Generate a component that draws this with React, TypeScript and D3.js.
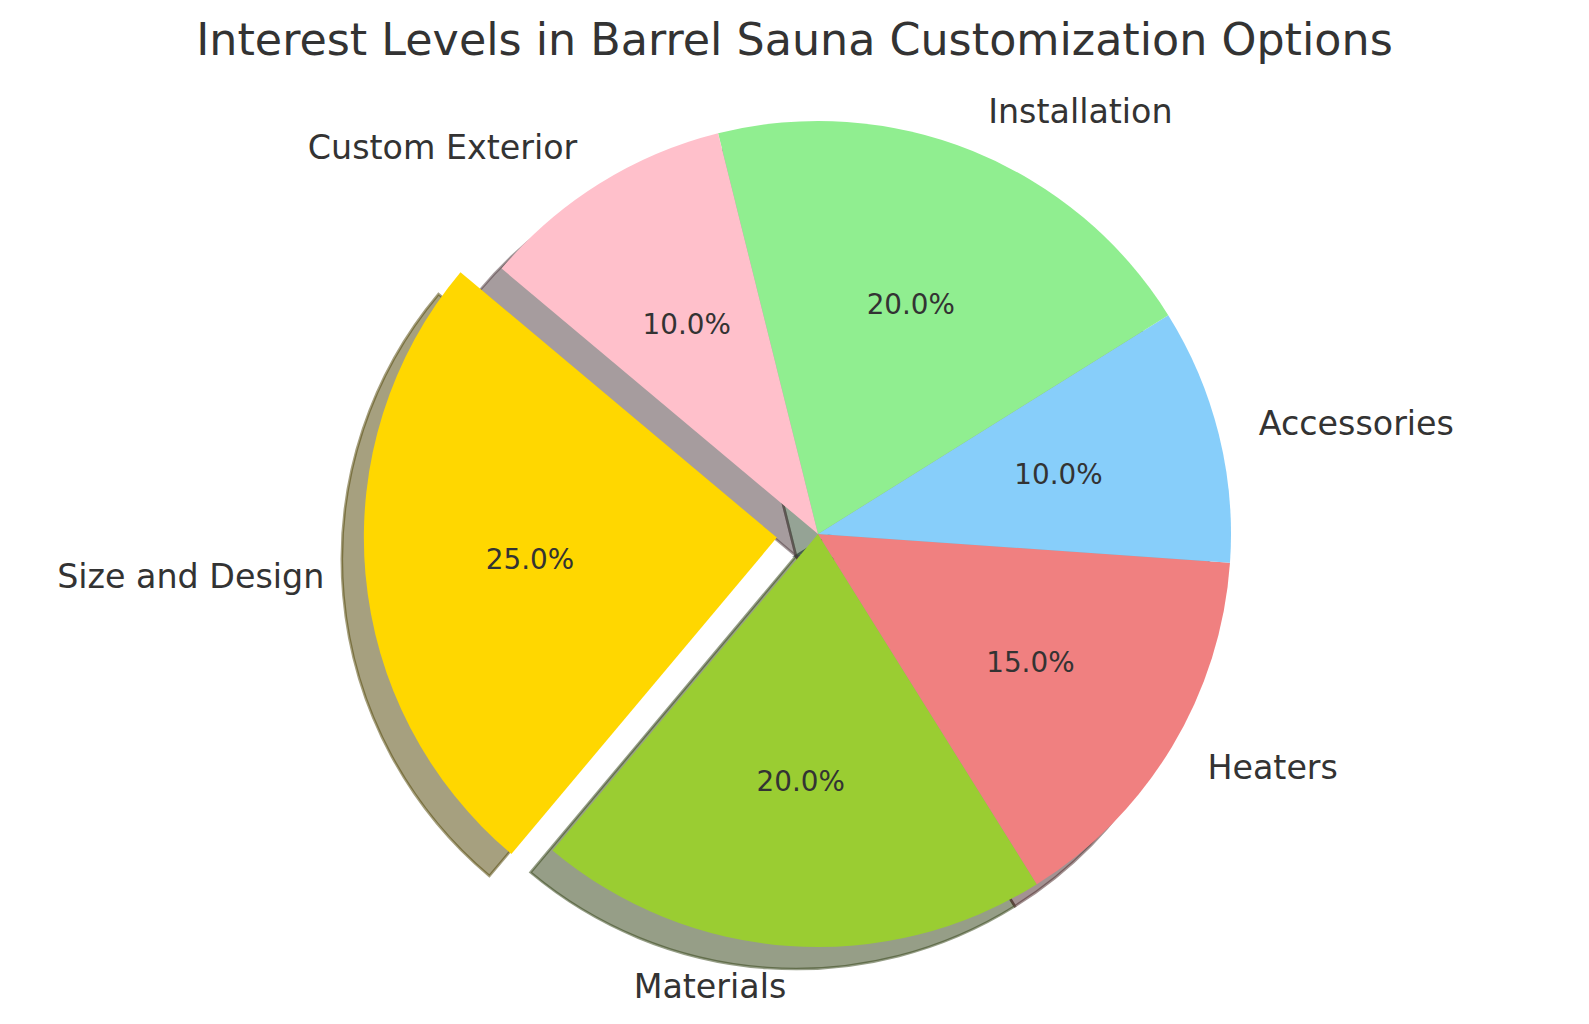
import * as d3 from 'd3'

// chart data
const categories = ['Size and Design', 'Materials', 'Heaters', 'Accessories', 'Installation', 'Custom Exterior']
const values = [25, 20, 15, 10, 20, 10]
const colors = ['#FFD700', '#9ACD32', '#F08080', '#87CEFA', '#90EE90', '#FFC0CB']
const explode = [0.1, 0, 0, 0, 0, 0]
const title = 'Interest Levels in Barrel Sauna Customization Options'

const W = 1589
const H = 1024
const CX = 818
const CY = 534
const R = 413
const START_DEG = 140 // matplotlib startangle, counter-clockwise
const SHADOW = 22
const FONT = 'DejaVu Sans, sans-serif'
const INK = '#333333'
const TITLE_SIZE = 44.4
const LABEL_SIZE = 33.3
const PCT_SIZE = 27.8

const toRad = (deg: number) => (deg * Math.PI) / 180

export default function App() {
  // matplotlib goes counter-clockwise from 140deg, d3 runs clockwise from 12 o'clock
  const pie = d3.pie<number>()
    .sort(null)
    .value(d => d)
    .startAngle(toRad(90 - START_DEG))
    .endAngle(toRad(90 - START_DEG - 360))
  const arcs = pie(values)
  const arc = d3.arc<d3.PieArcDatum<number>>().innerRadius(0).outerRadius(R)
  const total = d3.sum(values)

  const shade = (c: string) => {
    const rgb = d3.rgb(c)
    return d3.rgb(rgb.r * 0.3, rgb.g * 0.3, rgb.b * 0.3).formatHex()
  }

  const items = arcs.map((a, i) => {
    const mid = (a.startAngle + a.endAngle) / 2
    const ux = Math.sin(mid)
    const uy = -Math.cos(mid)
    const ox = ux * explode[i] * R
    const oy = uy * explode[i] * R
    return { a, i, ux, uy, ox, oy }
  })

  return (
    <div style={{ position: 'absolute', left: 0, top: 0 }}>
      <svg width={W} height={H} style={{ display: 'block', background: '#ffffff' }}>
        <text x={W / 2} y={55} textAnchor="middle" fontFamily={FONT} fontSize={TITLE_SIZE} fill={INK}>
          {title}
        </text>

        {/* shadows first, under every wedge */}
        {items.map(({ a, i, ox, oy }) => (
          <path
            key={'s' + i}
            d={arc(a) ?? ''}
            transform={`translate(${CX + ox - SHADOW},${CY + oy + SHADOW})`}
            fill={shade(colors[i])}
            fillOpacity={0.5}
            stroke={shade(colors[i])}
            strokeOpacity={0.5}
            strokeWidth={2.6}
          />
        ))}

        {items.map(({ a, i, ox, oy }) => (
          <path
            key={'w' + i}
            d={arc(a) ?? ''}
            transform={`translate(${CX + ox},${CY + oy})`}
            fill={colors[i]}
          />
        ))}

        {items.map(({ i, ux, uy, ox, oy }) => {
          const lx = CX + ox + ux * R * 1.1
          const ly = CY + oy + uy * R * 1.1
          const px = CX + ox + ux * R * 0.6
          const py = CY + oy + uy * R * 0.6
          return (
            <g key={'t' + i} fontFamily={FONT} fill={INK}>
              <text x={lx} y={ly + 0.32 * LABEL_SIZE} fontSize={LABEL_SIZE} textAnchor={ux > 0 ? 'start' : 'end'}>
                {categories[i]}
              </text>
              <text x={px} y={py + 0.36 * PCT_SIZE} fontSize={PCT_SIZE} textAnchor="middle">
                {`${((values[i] / total) * 100).toFixed(1)}%`}
              </text>
            </g>
          )
        })}
      </svg>
    </div>
  )
}
